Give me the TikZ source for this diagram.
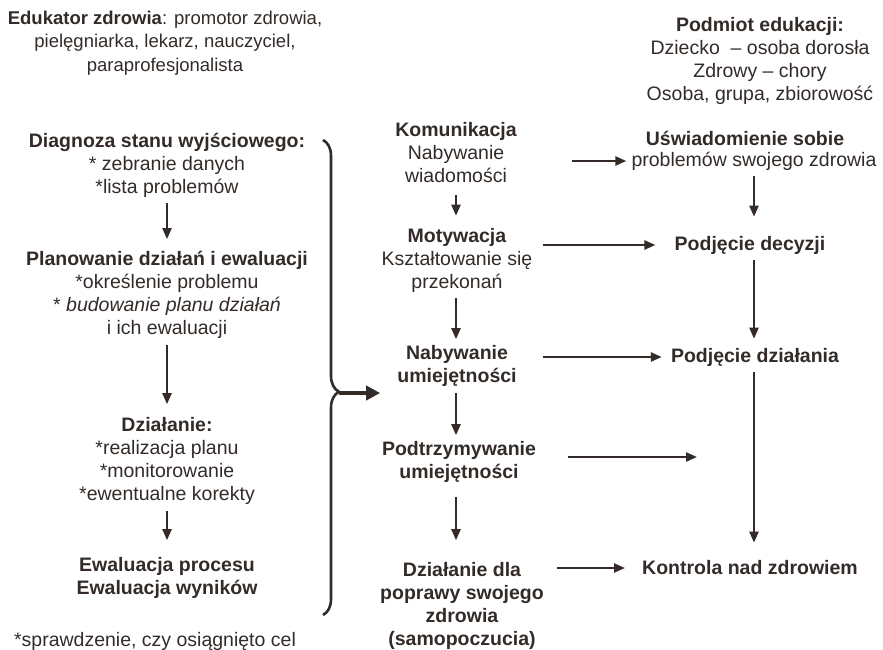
\documentclass[tikz,border=0pt]{standalone}
\usepackage{fontspec}
\setmainfont{Liberation Sans}
\usetikzlibrary{arrows.meta,decorations.pathreplacing}
\definecolor{ink}{RGB}{50,43,40}

\begin{document}
\begin{tikzpicture}[x=1pt,y=-1pt,
  lbl/.style={align=center, inner sep=2pt, text=ink, font=\fontsize{19.5}{23}\selectfont},
  hd/.style={lbl, font=\fontsize{19.5}{23}\selectfont\bfseries},
  arr/.style={draw=ink, line width=2.2pt, -{Triangle[length=11pt,width=9pt]}, shorten <=4pt, shorten >=4pt},
  bigarr/.style={draw=ink, line width=4pt, -{Triangle[length=14pt,width=14pt]}},
  brc/.style={draw=ink, line width=2.6pt, decorate, decoration={brace, amplitude=16pt, aspect=0.53}}]
  \useasboundingbox (0,0) rectangle (883,650);

  % Header texts
  \node[lbl, font=\fontsize{18.5}{23.5}\selectfont] (edu) at (165,43)
    {\textbf{Edukator zdrowia}: promotor zdrowia,\\pielęgniarka, lekarz, nauczyciel,\\paraprofesjonalista};
  \node[lbl] (podm) at (760,61)
    {\textbf{Podmiot edukacji:}\\Dziecko~ -- osoba dorosła\\Zdrowy -- chory\\Osoba, grupa, zbiorowość};

  % Educator column
  \node[lbl] (diag) at (167,165)
    {\textbf{Diagnoza stanu wyjściowego:}\\* zebranie danych\\*lista problemów};
  \node[lbl] (plan) at (167,295)
    {\textbf{Planowanie działań i ewaluacji}\\*określenie problemu\\* \textit{budowanie planu działań}\\i ich ewaluacji};
  \node[lbl] (dzl) at (167,461)
    {\textbf{Działanie:}\\*realizacja planu\\*monitorowanie\\*ewentualne korekty};
  \node[hd] (ewa) at (167,578) {Ewaluacja procesu\\Ewaluacja wyników};
  \node[lbl] (spr) at (155,641) {*sprawdzenie, czy osiągnięto cel};

  % Process column
  \node[lbl] (kom) at (456,153) {\textbf{Komunikacja}\\Nabywanie\\wiadomości};
  \node[lbl] (mot) at (457,260) {\textbf{Motywacja}\\Kształtowanie się\\przekonań};
  \node[hd] (nab) at (457,366) {Nabywanie\\umiejętności};
  \node[hd] (pdt) at (459,462) {Podtrzymywanie\\umiejętności};
  \node[hd] (dzd) at (462,606) {Działanie dla\\poprawy swojego\\zdrowia\\(samopoczucia)};

  % Outcome column
  \node[hd] (usw) at (745,138) {Uświadomienie sobie};
  \node[lbl] (uswp) at (754,161) {problemów swojego zdrowia};
  \node[hd] (dec) at (750,245) {Podjęcie decyzji};
  \node[hd] (dzi) at (755,357) {Podjęcie działania};
  \node[hd] (kon) at (750,568) {Kontrola nad zdrowiem};
  \coordinate (pend) at (697,457);

  % Brace
  \coordinate (btop) at (323,140);
  \coordinate (bbot) at (323,615);
  \coordinate (btip) at (339,393);
  \draw[brc] (btop) -- (bbot);
  \draw[bigarr, shorten >=15pt] (btip) -- (btip -| nab.west);

  % Vertical arrows
  \draw[arr, shorten >=10pt] (diag.south) -- (diag.south |- plan.north);
  \draw[arr, shorten >=11pt] (diag.south |- plan.south) -- (diag.south |- dzl.north);
  \draw[arr, shorten >=15pt] (diag.south |- dzl.south) -- (diag.south |- ewa.north);
  \draw[arr, shorten <=10pt, shorten >=10pt] (kom.south) -- (kom.south |- mot.north);
  \draw[arr] (kom.south |- mot.south) -- (kom.south |- nab.north);
  \draw[arr] (kom.south |- nab.south) -- (kom.south |- pdt.north);
  \draw[arr, shorten <=12pt, shorten >=20pt] (kom.south |- pdt.south) -- (kom.south |- dzd.north);
  \draw[arr, shorten >=17pt] (uswp.south) -- (uswp.south |- dec.north);
  \draw[arr, shorten >=7pt] (uswp.south |- dec.south) -- (uswp.south |- dzi.north);
  \draw[arr, shorten >=16pt] (uswp.south |- dzi.south) -- (uswp.south |- kon.north);

  % Horizontal arrows
  \draw[arr, shorten <=53pt, shorten >=3pt] (kom.east |- uswp.west) -- (uswp.west);
  \draw[arr, shorten <=8pt, shorten >=17pt] (mot.east |- dec.west) -- (dec.west);
  \draw[arr, shorten <=24pt, shorten >=7pt] (nab.east |- dzi.west) -- (dzi.west);
  \draw[arr, shorten <=30pt, shorten >=0pt] (pdt.east |- pend) -- (pend);
  \draw[arr, shorten <=11pt, shorten >=15pt] (dzd.east |- kon.west) -- (kon.west);
\end{tikzpicture}
\end{document}
